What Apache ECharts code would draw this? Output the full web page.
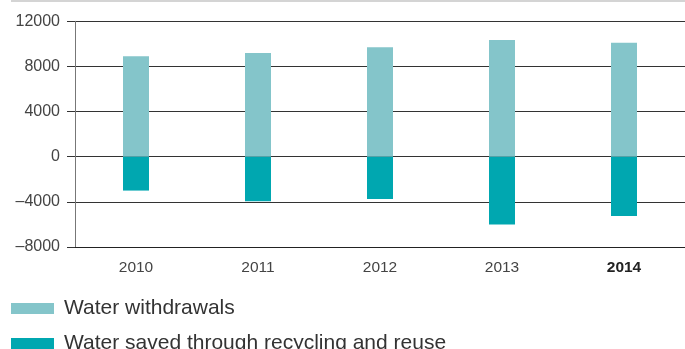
<!DOCTYPE html>
<html><head><meta charset="utf-8">
<script src="https://cdn.jsdelivr.net/npm/echarts@6/dist/echarts.min.js"></script>
<style>html,body{margin:0;padding:0;background:#fff}#c{width:685px;height:349px}</style>
</head><body><div id="c"></div>
<script>
const categories = ['2010', '2011', '2012', '2013', '2014'];
const withdrawals = [8900, 9200, 9700, 10350, 10100];
const saved = [-3000, -3950, -3750, -6000, -5250];
const seriesNames = ['Water withdrawals', 'Water saved through recycling and reuse'];
const yTickLabels = {'12000': '12000', '8000': '8000', '4000': '4000', '0': '0', '-4000': '\u20134000', '-8000': '\u20138000'};

const chart = echarts.init(document.getElementById('c'), null, {renderer: 'canvas'});
const font = 'Liberation Sans, Arial, sans-serif';
const legendText = {fontSize: 21, color: '#333', fontFamily: font, lineHeight: 25, padding: [0, 0, 0, 5]};
chart.setOption({
  animation: false,
  textStyle: {fontFamily: font},
  grid: {left: 75, right: -3.5, top: 21.3, bottom: 102},
  graphic: [{type: 'line', shape: {x1: 11, y1: 1, x2: 685, y2: 1}, style: {stroke: '#d4d4d4', lineWidth: 2}}],
  legend: [
    {orient: 'vertical', left: 11, top: 296, padding: 0, itemWidth: 43, itemHeight: 11, icon: 'rect', textStyle: legendText, data: [seriesNames[0]]},
    {orient: 'vertical', left: 11, top: 331, padding: 0, itemWidth: 43, itemHeight: 11, icon: 'rect', textStyle: legendText, data: [seriesNames[1]]}
  ],
  xAxis: {
    type: 'category', data: categories,
    axisLine: {onZero: false, lineStyle: {color: '#222', width: 1}},
    axisTick: {inside: true, length: 6, lineStyle: {color: '#222'}},
    axisLabel: {
      margin: 13, fontSize: 15.5, color: '#444',
      formatter: v => v === '2014' ? '{b|' + v + '}' : v,
      rich: {b: {fontWeight: 'bold', fontSize: 15.5, color: '#222'}}
    }
  },
  yAxis: {
    type: 'value', min: -8000, max: 12000, interval: 4000,
    axisLine: {show: true, lineStyle: {color: '#777', width: 1}},
    axisTick: {show: true, length: 8, lineStyle: {color: '#333'}},
    axisLabel: {margin: 15, fontSize: 16, color: '#444', formatter: v => yTickLabels[String(v)] ?? String(v)},
    splitLine: {lineStyle: {color: '#333', width: 1}}
  },
  series: [
    {name: seriesNames[0], type: 'bar', data: withdrawals, barWidth: 26, barGap: '-100%', itemStyle: {color: '#84c5ca'}},
    {name: seriesNames[1], type: 'bar', data: saved, barWidth: 26, barGap: '-100%', itemStyle: {color: '#00a7b0'}}
  ]
});
</script></body></html>
